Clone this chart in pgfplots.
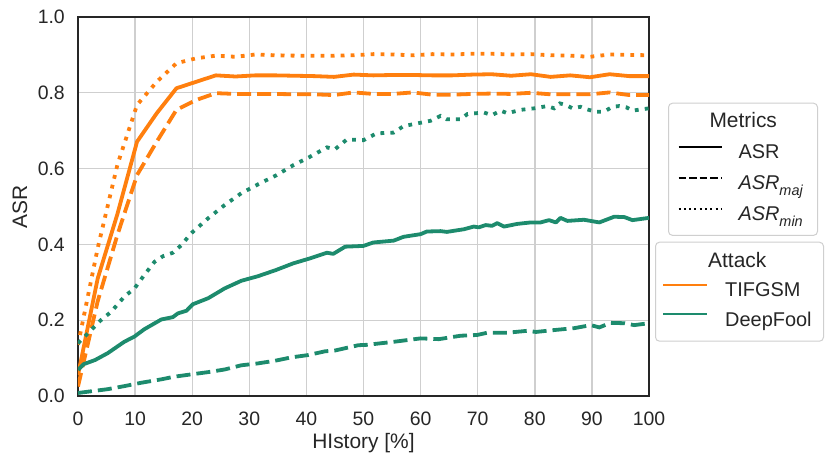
\documentclass[border=0pt]{standalone}
\usepackage{pgfplots}
\usepackage{pgfplotstable}
\pgfplotsset{compat=1.18}
\usepackage{fontspec}
\setmainfont{Liberation Sans}
\definecolor{tiorange}{HTML}{FF7F0E}
\definecolor{dfgreen}{HTML}{1D8B6D}
\definecolor{txt}{HTML}{262626}
\definecolor{gridc}{HTML}{CFCFCF}
\newcommand{\ASRsub}[1]{\textit{ASR}\raisebox{-0.3em}{\fontsize{14.5}{14.5}\selectfont\textit{#1}}}

\pgfplotstableread{
x asr maj min
0     0.055 0.025 0.135
3.45  0.310 0.250 0.390
6.90  0.480 0.425 0.610
10.34 0.671 0.583 0.768
13.79 0.746 0.671 0.829
17.24 0.812 0.755 0.878
20.69 0.829 0.781 0.891
24.14 0.846 0.799 0.898
27.59 0.843 0.797 0.895
31.03 0.846 0.797 0.901
34.48 0.846 0.797 0.899
37.93 0.845 0.796 0.898
41.38 0.844 0.796 0.898
44.83 0.842 0.794 0.898
48.28 0.848 0.801 0.899
51.72 0.846 0.797 0.902
55.17 0.847 0.797 0.901
58.62 0.847 0.801 0.899
62.07 0.846 0.795 0.902
65.52 0.846 0.795 0.901
68.97 0.848 0.797 0.903
72.41 0.849 0.798 0.903
75.86 0.845 0.797 0.901
79.31 0.849 0.800 0.902
82.76 0.842 0.796 0.899
86.21 0.846 0.796 0.898
89.66 0.841 0.796 0.895
93.10 0.849 0.801 0.901
96.55 0.844 0.794 0.900
100   0.844 0.794 0.899
}\tifgsm

\pgfplotsset{
  lw/.style={line width=3.8bp},
  dashedlw/.style={line width=3.8bp, dash pattern=on 14bp off 6bp},
  dottedlw/.style={line width=3.8bp, dash pattern=on 3.8bp off 6.2bp},
}

\begin{document}
\begin{tikzpicture}
\begin{axis}[
  at={(0,0)}, anchor=south west,
  scale only axis, width=571bp, height=379bp,
  xmin=0, xmax=100, ymin=0, ymax=1,
  xtick={0,10,...,100}, ytick={0,0.2,0.4,0.6,0.8,1.0},
  /pgf/number format/assume math mode=true,
  y tick label style={/pgf/number format/fixed, /pgf/number format/fixed zerofill, /pgf/number format/precision=1},
  tick label style={font=\fontsize{19.5}{21}\selectfont, text=txt, inner sep=0pt},
  major tick length=0pt,
  yticklabel style={xshift=-13bp},
  xticklabel style={yshift=-15.5bp},
  grid=major, grid style={gridc, line width=1.4bp},
  axis line style={txt, line width=1.8bp},
  xlabel={HIstory [\%]}, ylabel={ASR},
  label style={font=\fontsize{21}{23}\selectfont, text=txt},
  xlabel style={at={(axis description cs:0.5,-0.1372)}, anchor=base},
  ylabel style={at={(axis description cs:-0.0893,0.5)}, anchor=base},
  legend cell align=left,
  legend image code/.code={\draw[#1] (0bp,6.8bp) -- (43bp,6.8bp); \path (56bp,6.8bp);},
  legend style={at={(axis description cs:1.0333,0.7739)}, anchor=north west,
    draw=gridc, line width=1bp, rounded corners=4bp, fill=white,
    inner xsep=9bp, inner ysep=9.6bp, row sep=11bp,
    font=\fontsize{20}{22}\selectfont, text=txt,
    nodes={inner xsep=3bp, inner ysep=0pt, text height=15bp, text depth=5bp}},
]
\addplot[forget plot, tiorange, lw, line join=round] table[x=x, y=asr] {\tifgsm};
\addplot[forget plot, tiorange, dashedlw] table[x=x, y=maj] {\tifgsm};
\addplot[forget plot, tiorange, dottedlw] table[x=x, y=min] {\tifgsm};

\addplot[forget plot, dfgreen, lw, line join=round] coordinates {
(0,0.069) (1,0.084) (3,0.095) (5.2,0.113) (8.1,0.143) (9.9,0.157) (11.6,0.176) (14.6,0.202) (16.6,0.208) (17.5,0.218) (19,0.225) (20.1,0.242) (22.8,0.258) (25.7,0.284) (28.6,0.304) (31.5,0.316) (34.6,0.332) (37.7,0.350) (40.6,0.363) (43.6,0.378) (44.7,0.375) (46.8,0.394) (50,0.396) (51.7,0.405) (55.3,0.410) (57,0.420) (60,0.427) (61.1,0.434) (63.5,0.435) (64.6,0.433) (67.6,0.440) (69.3,0.447) (70.2,0.445) (71.4,0.451) (72.5,0.449) (73.4,0.456) (74.6,0.447) (76.9,0.454) (79.3,0.458) (81,0.458) (82.5,0.464) (83.7,0.458) (84.5,0.470) (85.7,0.462) (88.6,0.465) (91.3,0.458) (93.9,0.473) (95.7,0.472) (97.1,0.464) (100,0.470)
};
\addplot[forget plot, dfgreen, dashedlw] coordinates {
(0,0.008) (5.2,0.018) (8.1,0.026) (11.1,0.035) (14.6,0.044) (16.9,0.051) (19.8,0.057) (22.8,0.063) (25.7,0.070) (28.6,0.081) (31.5,0.086) (34.5,0.093) (37.4,0.102) (40.3,0.108) (43.3,0.118) (45,0.120) (49.1,0.134) (50.6,0.135) (55.3,0.143) (60,0.152) (63.2,0.150) (67,0.159) (69.9,0.161) (71.7,0.167) (75.2,0.167) (78.7,0.172) (80.2,0.169) (83.4,0.174) (86.9,0.179) (89.8,0.187) (91.3,0.181) (93.3,0.193) (95.7,0.192) (97.4,0.187) (100,0.192)
};
\addplot[forget plot, dfgreen, dottedlw] coordinates {
(0,0.139) (2.3,0.174) (4,0.2) (5.8,0.222) (8.1,0.262) (9.9,0.284) (11.6,0.319) (13.4,0.354) (14.9,0.369) (16.6,0.378) (18.1,0.398) (19.8,0.429) (22.8,0.469) (25.7,0.504) (28.6,0.535) (31.6,0.559) (34.8,0.583) (37.7,0.609) (40.6,0.631) (43.6,0.656) (45,0.651) (47.1,0.677) (50,0.675) (52.3,0.693) (55.3,0.695) (57,0.712) (60,0.721) (61.7,0.726) (63.5,0.739) (64.6,0.730) (67,0.730) (68.2,0.744) (71.1,0.748) (72.5,0.741) (74,0.753) (75.2,0.746) (77.5,0.755) (79.9,0.759) (82.2,0.765) (83.4,0.759) (84.4,0.772) (85.4,0.768) (86.6,0.759) (88,0.763) (89.2,0.756) (90.7,0.750) (92.1,0.750) (93.6,0.763) (94.8,0.765) (96,0.762) (97.1,0.753) (100,0.759)
};

\addlegendimage{empty legend}
\addlegendentry{\makebox[67bp][l]{\hspace*{-29bp}\fontsize{21}{23}\selectfont Metrics}}
\addlegendimage{black, line width=2bp}
\addlegendentry{\makebox[67bp][l]{ASR}}
\addlegendimage{black, line width=2bp, dash pattern=on 7.4bp off 3.2bp}
\addlegendentry{\makebox[67bp][l]{\ASRsub{maj}}}
\addlegendimage{black, line width=2bp, dash pattern=on 2bp off 3.3bp}
\addlegendentry{\makebox[67bp][l]{\ASRsub{min}}}
\end{axis}

\begin{axis}[
  at={(0,0)}, anchor=south west,
  scale only axis, width=571bp, height=379bp,
  hide axis, xmin=0, xmax=1, ymin=0, ymax=1,
  legend cell align=left,
  legend image code/.code={\draw[#1] (0bp,6.8bp) -- (43.3bp,6.8bp); \path (58bp,6.8bp);},
  legend style={at={(axis description cs:1.0105,0.4071)}, anchor=north west,
    draw=gridc, line width=1bp, rounded corners=4bp, fill=white,
    inner xsep=6.7bp, inner ysep=10bp, row sep=9.5bp,
    font=\fontsize{20}{22}\selectfont, text=txt,
    nodes={inner xsep=3bp, inner ysep=0pt, text height=15bp, text depth=5bp}},
]
\addlegendimage{empty legend}
\addlegendentry{\makebox[88.6bp][l]{\hspace*{-17bp}\fontsize{21}{23}\selectfont Attack}}
\addlegendimage{tiorange, line width=2bp}
\addlegendentry{\makebox[88.6bp][l]{TIFGSM}}
\addlegendimage{dfgreen, line width=2bp}
\addlegendentry{\makebox[88.6bp][l]{DeepFool}}
\end{axis}
\pgfresetboundingbox
\path[use as bounding box] (-78bp,-69bp) rectangle (753bp,396bp);
\end{tikzpicture}
\end{document}
